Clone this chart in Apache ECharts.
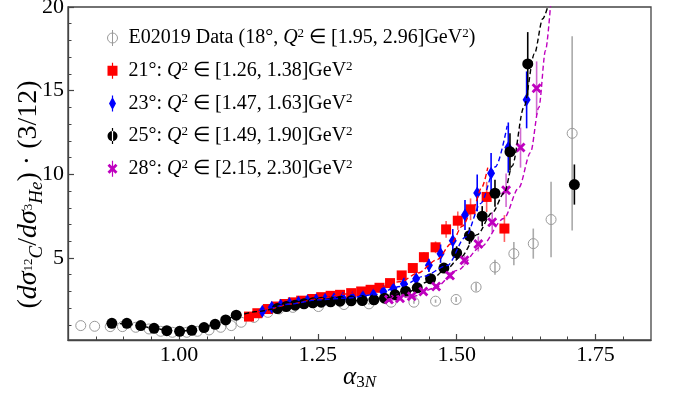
<!DOCTYPE html>
<html><head><meta charset="utf-8">
<script src="https://cdn.jsdelivr.net/npm/echarts@6/dist/echarts.min.js"></script>
<style>html,body{margin:0;padding:0;background:#fff}#c{width:675px;height:394px}</style>
</head><body><div id="c"></div>
<script>
// ---- tick values ----
const xTickLabels = [1.00, 1.25, 1.50, 1.75];
const xMinorTicks = [0.85, 0.90, 0.95, 1.05, 1.10, 1.15, 1.20, 1.30, 1.35, 1.40, 1.45, 1.55, 1.60, 1.65, 1.70, 1.80];
const yTickLabels = [5, 10, 15, 20];
const yMinorTicks = [1, 2, 3, 4, 6, 7, 8, 9, 11, 12, 13, 14, 16, 17, 18, 19];

// ---- series names ----
const names = [
  'E02019 Data (18°, Q² ∈ [1.95, 2.96]GeV²)',
  '21°: Q² ∈ [1.26, 1.38]GeV²',
  '23°: Q² ∈ [1.47, 1.63]GeV²',
  '25°: Q² ∈ [1.49, 1.90]GeV²',
  '28°: Q² ∈ [2.15, 2.30]GeV²'
];

// ---- E02019 (18°) ----
const grayX = [0.823,0.848,0.876,0.898,0.922,0.946,0.967,0.988,1.014,1.033,1.054,1.075,1.094,1.112,1.135,1.160,1.180,1.205,1.251,1.297,1.342,1.382,1.423,1.462,1.499,1.535,1.569,1.603,1.638,1.670,1.708];
const grayY = [0.96,0.92,0.90,0.90,0.86,0.76,0.62,0.56,0.56,0.62,0.70,0.86,0.96,1.16,1.45,1.75,1.95,2.05,2.10,2.22,2.26,2.36,2.36,2.42,2.52,3.26,4.45,5.26,5.86,7.30,12.45];
const grayErr = [0,0,0,0,0,0,0,0,0,0,0,0,0,0,0,0,0,0,0,0,0.05,0.08,0.1,0.1,0.15,0.25,0.45,0.7,0.9,2.25,5.8];

// ---- 21° ----
const redX = [1.126,1.141,1.160,1.175,1.190,1.205,1.220,1.240,1.256,1.273,1.290,1.310,1.328,1.345,1.361,1.380,1.401,1.421,1.441,1.462,1.481,1.502,1.525,1.554,1.586];
const redY = [1.50,1.70,1.95,2.10,2.25,2.35,2.45,2.55,2.66,2.74,2.80,2.90,3.00,3.10,3.22,3.50,3.96,4.40,5.05,5.64,6.71,7.23,7.91,8.65,6.76];
const redErr = [0.03,0.03,0.04,0.04,0.05,0.05,0.05,0.06,0.06,0.06,0.07,0.07,0.08,0.08,0.09,0.1,0.15,0.2,0.3,0.35,0.5,0.55,0.65,0.9,0.8];

// ---- 23° ----
const blueX = [1.150,1.167,1.183,1.199,1.215,1.231,1.247,1.263,1.279,1.295,1.312,1.331,1.350,1.368,1.386,1.405,1.427,1.450,1.471,1.493,1.515,1.537,1.562,1.593,1.626];
const blueY = [1.82,2.05,2.18,2.28,2.36,2.44,2.50,2.54,2.57,2.60,2.62,2.70,2.80,3.00,3.16,3.46,3.76,4.56,5.26,6.03,7.57,8.89,10.07,11.60,14.45];
const blueErr = [0.04,0.04,0.04,0.05,0.05,0.05,0.05,0.06,0.06,0.06,0.07,0.08,0.09,0.1,0.12,0.2,0.25,0.4,0.55,0.7,0.9,1.1,1.2,1.5,1.7];

// ---- 25° ----
const blackX = [0.879,0.906,0.931,0.955,0.978,1.001,1.023,1.045,1.065,1.084,1.103,1.177,1.193,1.209,1.225,1.241,1.256,1.273,1.290,1.310,1.330,1.351,1.370,1.389,1.408,1.429,1.453,1.477,1.500,1.523,1.546,1.569,1.596,1.628,1.712];
const blackY = [1.10,1.10,0.96,0.80,0.66,0.62,0.68,0.84,1.04,1.30,1.58,1.98,2.10,2.18,2.26,2.32,2.36,2.38,2.42,2.44,2.46,2.50,2.60,2.80,3.02,3.22,3.76,4.40,5.30,6.33,7.50,8.87,11.35,16.60,9.39];
const blackErr = [0.02,0.02,0.02,0.02,0.02,0.02,0.02,0.02,0.02,0.03,0.03,0.04,0.04,0.04,0.04,0.05,0.05,0.05,0.05,0.06,0.06,0.07,0.08,0.1,0.12,0.15,0.2,0.3,0.4,0.5,0.6,0.8,1.1,1.9,1.2];

// ---- 28° ----
const magX = [1.378,1.398,1.419,1.440,1.463,1.488,1.514,1.539,1.564,1.589,1.615,1.644];
const magY = [2.52,2.60,2.72,3.00,3.30,3.96,4.86,5.84,7.14,9.05,11.60,15.15];
const magErr = [0.1,0.1,0.1,0.12,0.15,0.2,0.3,0.45,0.6,1.0,1.2,1.6];

// ---- dashed fit curves ----
const redFitX = [1.126,1.160,1.200,1.250,1.300,1.350,1.400,1.430,1.465,1.490,1.510,1.530,1.545,1.556];
const redFitY = [1.50,1.92,2.25,2.55,2.85,3.15,3.60,4.10,4.90,5.85,6.90,8.00,9.20,10.40];
const blueFitX = [1.150,1.200,1.250,1.300,1.350,1.400,1.440,1.483,1.516,1.543,1.570,1.591];
const blueFitY = [1.80,2.25,2.50,2.60,2.80,3.30,3.90,4.55,6.25,8.25,10.45,12.90];
const blackFitX = [0.879,0.906,0.931,0.955,0.978,1.000,1.023,1.045,1.065,1.084,1.103,1.140,1.177,1.225,1.273,1.330,1.370,1.410,1.450,1.480,1.507,1.537,1.564,1.586,1.600,1.621,1.640,1.655,1.668];
const blackFitY = [1.12,1.06,0.93,0.80,0.68,0.63,0.68,0.84,1.04,1.30,1.58,1.80,1.98,2.24,2.38,2.46,2.60,2.95,3.60,4.30,5.05,6.40,7.70,8.90,10.50,14.00,17.20,19.30,20.50];
const magFitX = [1.378,1.420,1.460,1.501,1.543,1.585,1.612,1.633,1.648,1.660,1.670];
const magFitY = [2.45,2.70,3.20,4.26,5.65,7.36,9.20,11.30,14.00,17.40,20.50];

const zip3 = (x, y, e) => x.map((v, i) => [v, y[i], e[i]]);
const zip2 = (x, y) => x.map((v, i) => [v, y[i]]);

const FONT = 'Liberation Serif';
const AX = '#444';
const cGray = '#9a9a9a', cRed = '#ff0000', cBlue = '#0000ff', cBlack = '#000000', cMag = '#bf00bf';
const xPath = 'path://M0,2 L2,0 L5,3 L8,0 L10,2 L7,5 L10,8 L8,10 L5,7 L2,10 L0,8 L3,5 Z';

function errSeries(data, color, z) {
  return {
    type: 'custom', silent: true, clip: true, z: z, data: data,
    encode: { x: 0, y: 1 },
    renderItem: function (params, api) {
      const x = api.value(0), y = api.value(1), e = api.value(2);
      if (!e) return null;
      const a = api.coord([x, y - e]), b = api.coord([x, y + e]);
      return { type: 'line', shape: { x1: a[0], y1: a[1], x2: b[0], y2: b[1] }, style: { stroke: color, lineWidth: 1.6 } };
    }
  };
}
function fitSeries(x, y, color) {
  return {
    type: 'line', data: zip2(x, y), showSymbol: false, symbol: 'none', silent: true, clip: true,
    smooth: 0.3, smoothMonotone: 'x', z: 20,
    lineStyle: { color: color, width: 1.4, type: [5, 3] }
  };
}
function richName(n) {
  return n.split('GeV²').join('GeV{sp|2}').split('Q²').join('{i|Q}{sp|2}');
}

const chart = echarts.init(document.getElementById('c'), null, { renderer: 'canvas' });
chart.setOption({
  animation: false,
  backgroundColor: '#fff',
  grid: { left: 68, right: 24, top: 7, bottom: 54, show: true, borderColor: AX, borderWidth: 1.3, backgroundColor: 'transparent', outerBoundsMode: 'none', containLabel: false },
  xAxis: [{
    type: 'value', min: 0.8, max: 1.85,
    splitLine: { show: false },
    axisLine: { show: true, lineStyle: { color: AX, width: 1.3 } },
    axisTick: { show: true, inside: true, length: 6, customValues: xTickLabels, lineStyle: { color: AX, width: 1.2 } },
    axisLabel: { show: true, customValues: xTickLabels, margin: 4, color: '#000', fontFamily: FONT, fontSize: 22, formatter: v => v.toFixed(2) },
    name: '{i|α}{sb|3}{sbi|N}', nameLocation: 'middle', nameGap: 23, nameMoveOverlap: false,
    nameTextStyle: {
      color: '#000', fontFamily: FONT, fontSize: 25, lineHeight: 28,
      rich: {
        i: { fontFamily: FONT, fontStyle: 'italic', fontSize: 25, lineHeight: 28, color: '#000' },
        sb: { fontFamily: FONT, fontSize: 17, lineHeight: 16, verticalAlign: 'bottom', color: '#000' },
        sbi: { fontFamily: FONT, fontStyle: 'italic', fontSize: 17, lineHeight: 16, verticalAlign: 'bottom', color: '#000' }
      }
    }
  }, {
    type: 'value', min: 0.8, max: 1.85, position: 'bottom',
    splitLine: { show: false }, axisLine: { show: false }, axisLabel: { show: false },
    axisTick: { show: true, inside: true, length: 3.5, customValues: xMinorTicks, lineStyle: { color: AX, width: 1 } }
  }],
  yAxis: [{
    type: 'value', min: 0.1, max: 20,
    splitLine: { show: false },
    axisLine: { show: true, lineStyle: { color: AX, width: 1.3 } },
    axisTick: { show: true, inside: true, length: 6, customValues: yTickLabels, lineStyle: { color: AX, width: 1.2 } },
    axisLabel: { show: true, customValues: yTickLabels, margin: 4, color: '#000', fontFamily: FONT, fontSize: 22, formatter: v => String(v) },
    name: '{t|(}{i|dσ}{ss|12}{sbi|C}{t|/}{i|dσ}{ss|3}{sbi|He}{t|) · (3/12)}',
    nameLocation: 'middle', nameGap: 22, nameRotate: 90, nameMoveOverlap: false,
    nameTextStyle: {
      color: '#000', fontFamily: FONT, fontSize: 28, lineHeight: 34, padding: [0, 42, 0, 0],
      rich: {
        t: { fontFamily: FONT, fontSize: 28, lineHeight: 34, color: '#000' },
        i: { fontFamily: FONT, fontStyle: 'italic', fontSize: 28, lineHeight: 34, color: '#000' },
        ss: { fontFamily: FONT, fontSize: 13, lineHeight: 13, verticalAlign: 'bottom', padding: [0, 0, 11, 0], color: '#000' },
        sbi: { fontFamily: FONT, fontStyle: 'italic', fontSize: 19, lineHeight: 19, verticalAlign: 'bottom', color: '#000' }
      }
    }
  }, {
    type: 'value', min: 0.1, max: 20, position: 'left',
    splitLine: { show: false }, axisLine: { show: false }, axisLabel: { show: false },
    axisTick: { show: true, inside: true, length: 3.5, customValues: yMinorTicks, lineStyle: { color: AX, width: 1 } }
  }],
  legend: {
    orient: 'vertical', left: 102, top: 22, itemGap: 10.7, itemWidth: 10, itemHeight: 16,
    selectedMode: false,
    formatter: richName,
    textStyle: {
      color: '#000', fontFamily: FONT, fontSize: 20, lineHeight: 22, padding: [0, 0, 0, 6],
      rich: {
        i: { fontFamily: FONT, fontStyle: 'italic', fontSize: 20, lineHeight: 22, color: '#000' },
        sp: { fontFamily: FONT, fontSize: 13, lineHeight: 13, verticalAlign: 'top', color: '#000' }
      }
    },
    data: [
      { name: names[0], icon: 'path://M5,0 L5,16 M0,8 A5,5 0 1,0 10,8 A5,5 0 1,0 0,8 Z', itemStyle: { color: 'rgba(0,0,0,0)', borderColor: cGray, borderWidth: 1 } },
      { name: names[1], icon: 'path://M4.4,0 h1.2 v16 h-1.2 Z M0,3 h10 v10 h-10 Z' },
      { name: names[2], icon: 'path://M4.4,0 h1.2 v16 h-1.2 Z M5,1.5 L8.5,8 L5,14.5 L1.5,8 Z' },
      { name: names[3], icon: 'path://M4.4,0 h1.2 v16 h-1.2 Z M0,8 A5,5 0 1,0 10,8 A5,5 0 1,0 0,8 Z' },
      { name: names[4], icon: 'path://M4.4,0 h1.2 v16 h-1.2 Z M0,5 L2,3 L5,6 L8,3 L10,5 L7,8 L10,11 L8,13 L5,10 L2,13 L0,11 L3,8 Z' }
    ]
  },
  series: [
    errSeries(zip3(grayX, grayY, grayErr), '#aaaaaa', 1),
    { name: names[0], type: 'scatter', z: 2, data: zip3(grayX, grayY, grayErr), symbol: 'circle', symbolSize: 10,
      itemStyle: { color: 'rgba(0,0,0,0)', borderColor: cGray, borderWidth: 1, opacity: 1 } },
    errSeries(zip3(redX, redY, redErr), 'rgba(255,40,40,0.75)', 3),
    { name: names[1], type: 'scatter', z: 4, data: zip3(redX, redY, redErr), symbol: 'rect', symbolSize: 10, itemStyle: { color: cRed, opacity: 1 } },
    errSeries(zip3(blueX, blueY, blueErr), cBlue, 5),
    { name: names[2], type: 'scatter', z: 6, data: zip3(blueX, blueY, blueErr), symbol: 'diamond', symbolSize: [8, 13], itemStyle: { color: cBlue, opacity: 1 } },
    errSeries(zip3(blackX, blackY, blackErr), cBlack, 7),
    { name: names[3], type: 'scatter', z: 8, data: zip3(blackX, blackY, blackErr), symbol: 'circle', symbolSize: 11, itemStyle: { color: cBlack, opacity: 1 } },
    errSeries(zip3(magX, magY, magErr), 'rgba(200,80,200,0.85)', 9),
    { name: names[4], type: 'scatter', z: 10, data: zip3(magX, magY, magErr), symbol: xPath, symbolSize: 10, itemStyle: { color: cMag, opacity: 1 } },
    fitSeries(redFitX, redFitY, cRed),
    fitSeries(blueFitX, blueFitY, cBlue),
    fitSeries(blackFitX, blackFitY, cBlack),
    fitSeries(magFitX, magFitY, cMag)
  ]
});
</script></body></html>
